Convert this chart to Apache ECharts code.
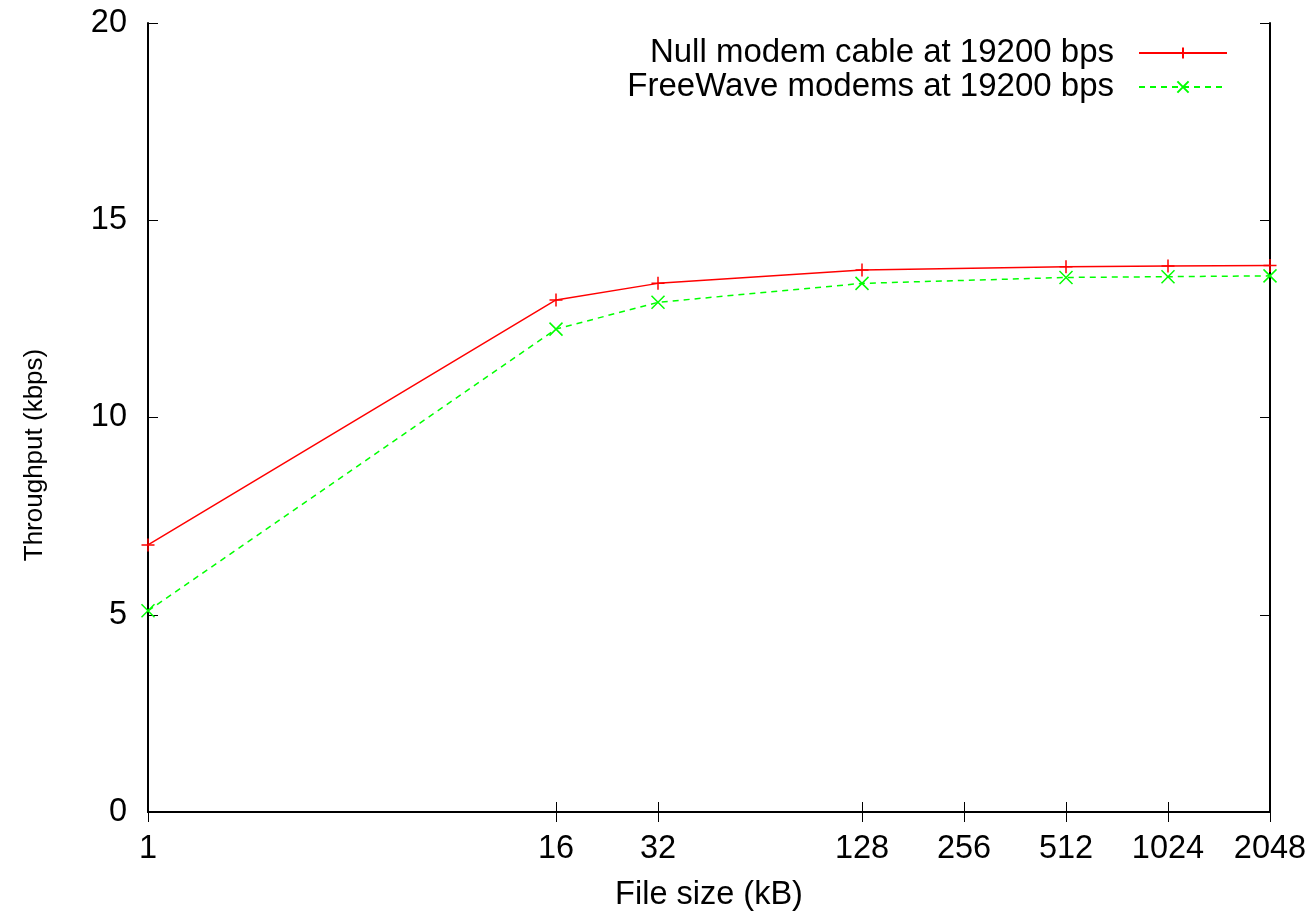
<!DOCTYPE html>
<html>
<head>
<meta charset="utf-8">
<title>Throughput vs file size</title>
<script src="https://cdn.jsdelivr.net/npm/echarts@6/dist/echarts.min.js"></script>
<style>
  html, body { margin: 0; padding: 0; background: #fff; }
  #chart { width: 1312px; height: 915px; }
</style>
</head>
<body>
<div id="chart"></div>
<script>
// File sizes (kB) measured, and the tick values shown on the x axis
const fileSizes = [1, 16, 32, 128, 512, 1024, 2048];
const xTicks = [1, 16, 32, 128, 256, 512, 1024, 2048];
const yTicks = [0, 5, 10, 15, 20];

// Throughput (kbps) for each link type
const nullModem = [6.77, 12.98, 13.40, 13.74, 13.82, 13.84, 13.85];
const freeWave = [5.10, 12.24, 12.92, 13.40, 13.55, 13.57, 13.59];

const seriesNames = ['Null modem cable at 19200 bps', 'FreeWave modems at 19200 bps'];

const FONT = "'Liberation Sans', Arial, Helvetica, sans-serif";
const PLUS = 'path://M0,5L10,5M5,0L5,10';
const CROSS = 'path://M0,0L10,10M0,10L10,0';

const pairs = (xs, ys) => xs.map((x, i) => [x, ys[i]]);

const xBase = {
  type: 'log',
  logBase: 2,
  min: xTicks[0],
  max: xTicks[xTicks.length - 1],
  axisLine: { show: true, lineStyle: { color: '#000', width: 2 } },
  axisTick: { show: true, inside: true, length: 10, lineStyle: { color: '#000', width: 1 }, customValues: xTicks },
  minorTick: { show: false },
  splitLine: { show: false },
  minorSplitLine: { show: false }
};

const yBase = {
  type: 'value',
  min: yTicks[0],
  max: yTicks[yTicks.length - 1],
  interval: yTicks[1] - yTicks[0],
  axisLine: { show: true, lineStyle: { color: '#000', width: 2 } },
  axisTick: { show: true, inside: true, length: 10, lineStyle: { color: '#000', width: 1 } },
  splitLine: { show: false }
};

const chart = echarts.init(document.getElementById('chart'), null, { renderer: 'canvas' });

chart.setOption({
  backgroundColor: '#fff',
  animation: false,
  textStyle: { fontFamily: FONT },
  grid: { left: 148, right: 42, top: 23, bottom: 103, containLabel: false },
  legend: {
    orient: 'vertical',
    right: 84,
    top: 36,
    padding: 0,
    align: 'right',
    itemWidth: 88,
    itemHeight: 14,
    itemGap: 0,
    data: seriesNames,
    textStyle: { fontFamily: FONT, fontSize: 33, color: '#000', lineHeight: 34, padding: [0, 20, 0, 0] }
  },
  xAxis: [
    Object.assign({}, xBase, {
      position: 'bottom',
      axisLabel: {
        show: true,
        customValues: xTicks,
        margin: 21,
        color: '#000',
        fontFamily: FONT,
        fontSize: 32.5,
        formatter: v => String(Math.round(v))
      }
    }),
    Object.assign({}, xBase, {
      position: 'top',
      axisLabel: { show: false, customValues: xTicks }
    })
  ],
  yAxis: [
    Object.assign({}, yBase, {
      position: 'left',
      axisLabel: { show: true, margin: 21, color: '#000', fontFamily: FONT, fontSize: 32.5 }
    }),
    Object.assign({}, yBase, {
      position: 'right',
      axisLabel: { show: false }
    })
  ],
  graphic: [
    {
      type: 'text',
      x: 709,
      y: 895,
      style: {
        text: 'File size (kB)',
        fontFamily: FONT,
        fontSize: 32.5,
        fill: '#000',
        align: 'center',
        verticalAlign: 'middle'
      }
    },
    {
      type: 'text',
      x: 35,
      y: 455,
      rotation: Math.PI / 2,
      style: {
        text: 'Throughput (kbps)',
        fontFamily: FONT,
        fontSize: 26,
        fill: '#000',
        align: 'center',
        verticalAlign: 'middle'
      }
    }
  ],
  series: [
    {
      name: seriesNames[0],
      type: 'line',
      data: pairs(fileSizes, nullModem),
      symbol: PLUS,
      symbolSize: 13,
      showSymbol: true,
      itemStyle: { color: '#ff0000', borderColor: '#ff0000', borderWidth: 1.5 },
      lineStyle: { color: '#ff0000', width: 1.5, type: 'solid' },
      emphasis: { disabled: true }
    },
    {
      name: seriesNames[1],
      type: 'line',
      data: pairs(fileSizes, freeWave),
      symbol: CROSS,
      symbolSize: 13,
      showSymbol: true,
      itemStyle: { color: '#00ff00', borderColor: '#00ff00', borderWidth: 1.5 },
      lineStyle: { color: '#00ff00', width: 1.5, type: [6, 5] },
      emphasis: { disabled: true }
    }
  ]
});
</script>
</body>
</html>
